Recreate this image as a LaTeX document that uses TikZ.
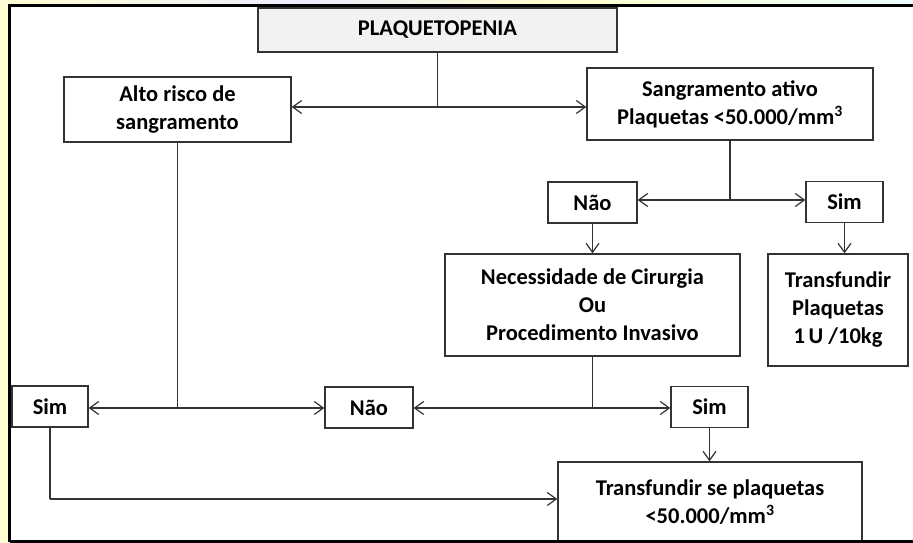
\documentclass[tikz,border=0pt]{standalone}
\usepackage{fontspec}
\setmainfont{Carlito}
\usetikzlibrary{arrows.meta,positioning}

\begin{document}
\begin{tikzpicture}[x=1pt,y=-1pt]
        \tikzset{block/.style= {draw=black!80, line width=1.4pt, rectangle, align=center, inner sep=0pt,
                font=\bfseries\fontsize{22.5}{28}\selectfont},
        sblock/.style={block, minimum width=77pt, minimum height=41pt},
        link/.style={draw=black!80, line width=1.2pt},
        >={Straight Barb[length=9pt,width=13pt]}
        }
        \useasboundingbox (0,0) rectangle (913,543);
        % slide background
        \fill[yellow!18] (0,0) rectangle (9,543);
        \shade[left color=yellow!18, right color=blue!7] (0,0) rectangle (300,5);
        \shade[left color=blue!7, right color=yellow!20] (300,0) rectangle (560,5);
        \shade[left color=yellow!20, right color=cyan!8] (560,0) rectangle (913,5);
        \fill[white] (9,5) rectangle (913,541);

        \node [block, fill=gray!10, minimum width=359pt, minimum height=44pt] (plaq) at (437.5,30) {PLAQUETOPENIA};
        \node [block, minimum width=227pt, minimum height=65pt] (alto) at (177.5,109.5) {Alto risco de\\sangramento};
        \node [block, minimum width=286pt, minimum height=72pt] (sang) at (730,104) {Sangramento ativo\\Plaquetas <50.000/mm\textsuperscript{3}};
        \node [sblock, minimum width=89pt] (nao1) at (592.5,202.5) {Não};
        \node [sblock] (sim1) at (844.5,202) {Sim};
        \node [block, minimum width=295pt, minimum height=102pt] (cirurgia) at (592.5,305) {Necessidade de Cirurgia\\Ou\\Procedimento Invasivo};
        \node [block, minimum width=140pt, minimum height=112pt] (transf1) at (838,310) {Transfundir\\Plaquetas\\1\,U /10kg};
        \node [sblock, minimum width=76pt] (sim2) at (50,406.5) {Sim};
        \node [sblock, minimum width=88pt] (nao2) at (369,407.5) {Não};
        \node [sblock] (sim3) at (709.5,407) {Sim};
        \node [block, minimum width=304pt, minimum height=80pt] (transf2) at (710,502) {Transfundir se plaquetas\\<50.000/mm\textsuperscript{3}};

        \coordinate (j1) at (437.5,107);
        \coordinate (j2) at (730,200);
        \coordinate (j3) at (177.5,408);
        \coordinate (j4) at (592.5,408);
        \coordinate (j5) at (50,499);

%% paths
        \path[link] (plaq) -- (j1)
                    (sang) -- (j2)
                    (alto) -- (j3)
                    (cirurgia) -- (j4)
                    (sim2) -- (j5);
        \path[link, every edge/.append style={->}] (j1) edge (j1 -| alto.east)
                    (j1) edge (j1 -| sang.west)
                    (j2) edge (j2 -| nao1.east)
                    (j2) edge (j2 -| sim1.west)
                    (nao1) edge (cirurgia)
                    (sim1.south) edge (sim1.south |- transf1.north)
                    (j3) edge (j3 -| sim2.east)
                    (j3) edge (j3 -| nao2.west)
                    (j4) edge (j4 -| nao2.east)
                    (j4) edge (j4 -| sim3.west)
                    (sim3) edge (sim3 |- transf2.north)
                    (j5) edge (j5 -| transf2.west);

        % frame
        \draw[line width=3pt] (9.5,541.5) -- (9.5,5.5) -- (913,5.5);
        \draw[line width=3pt] (9.5,541.5) -- (913,541.5);
    \end{tikzpicture}
\end{document}
